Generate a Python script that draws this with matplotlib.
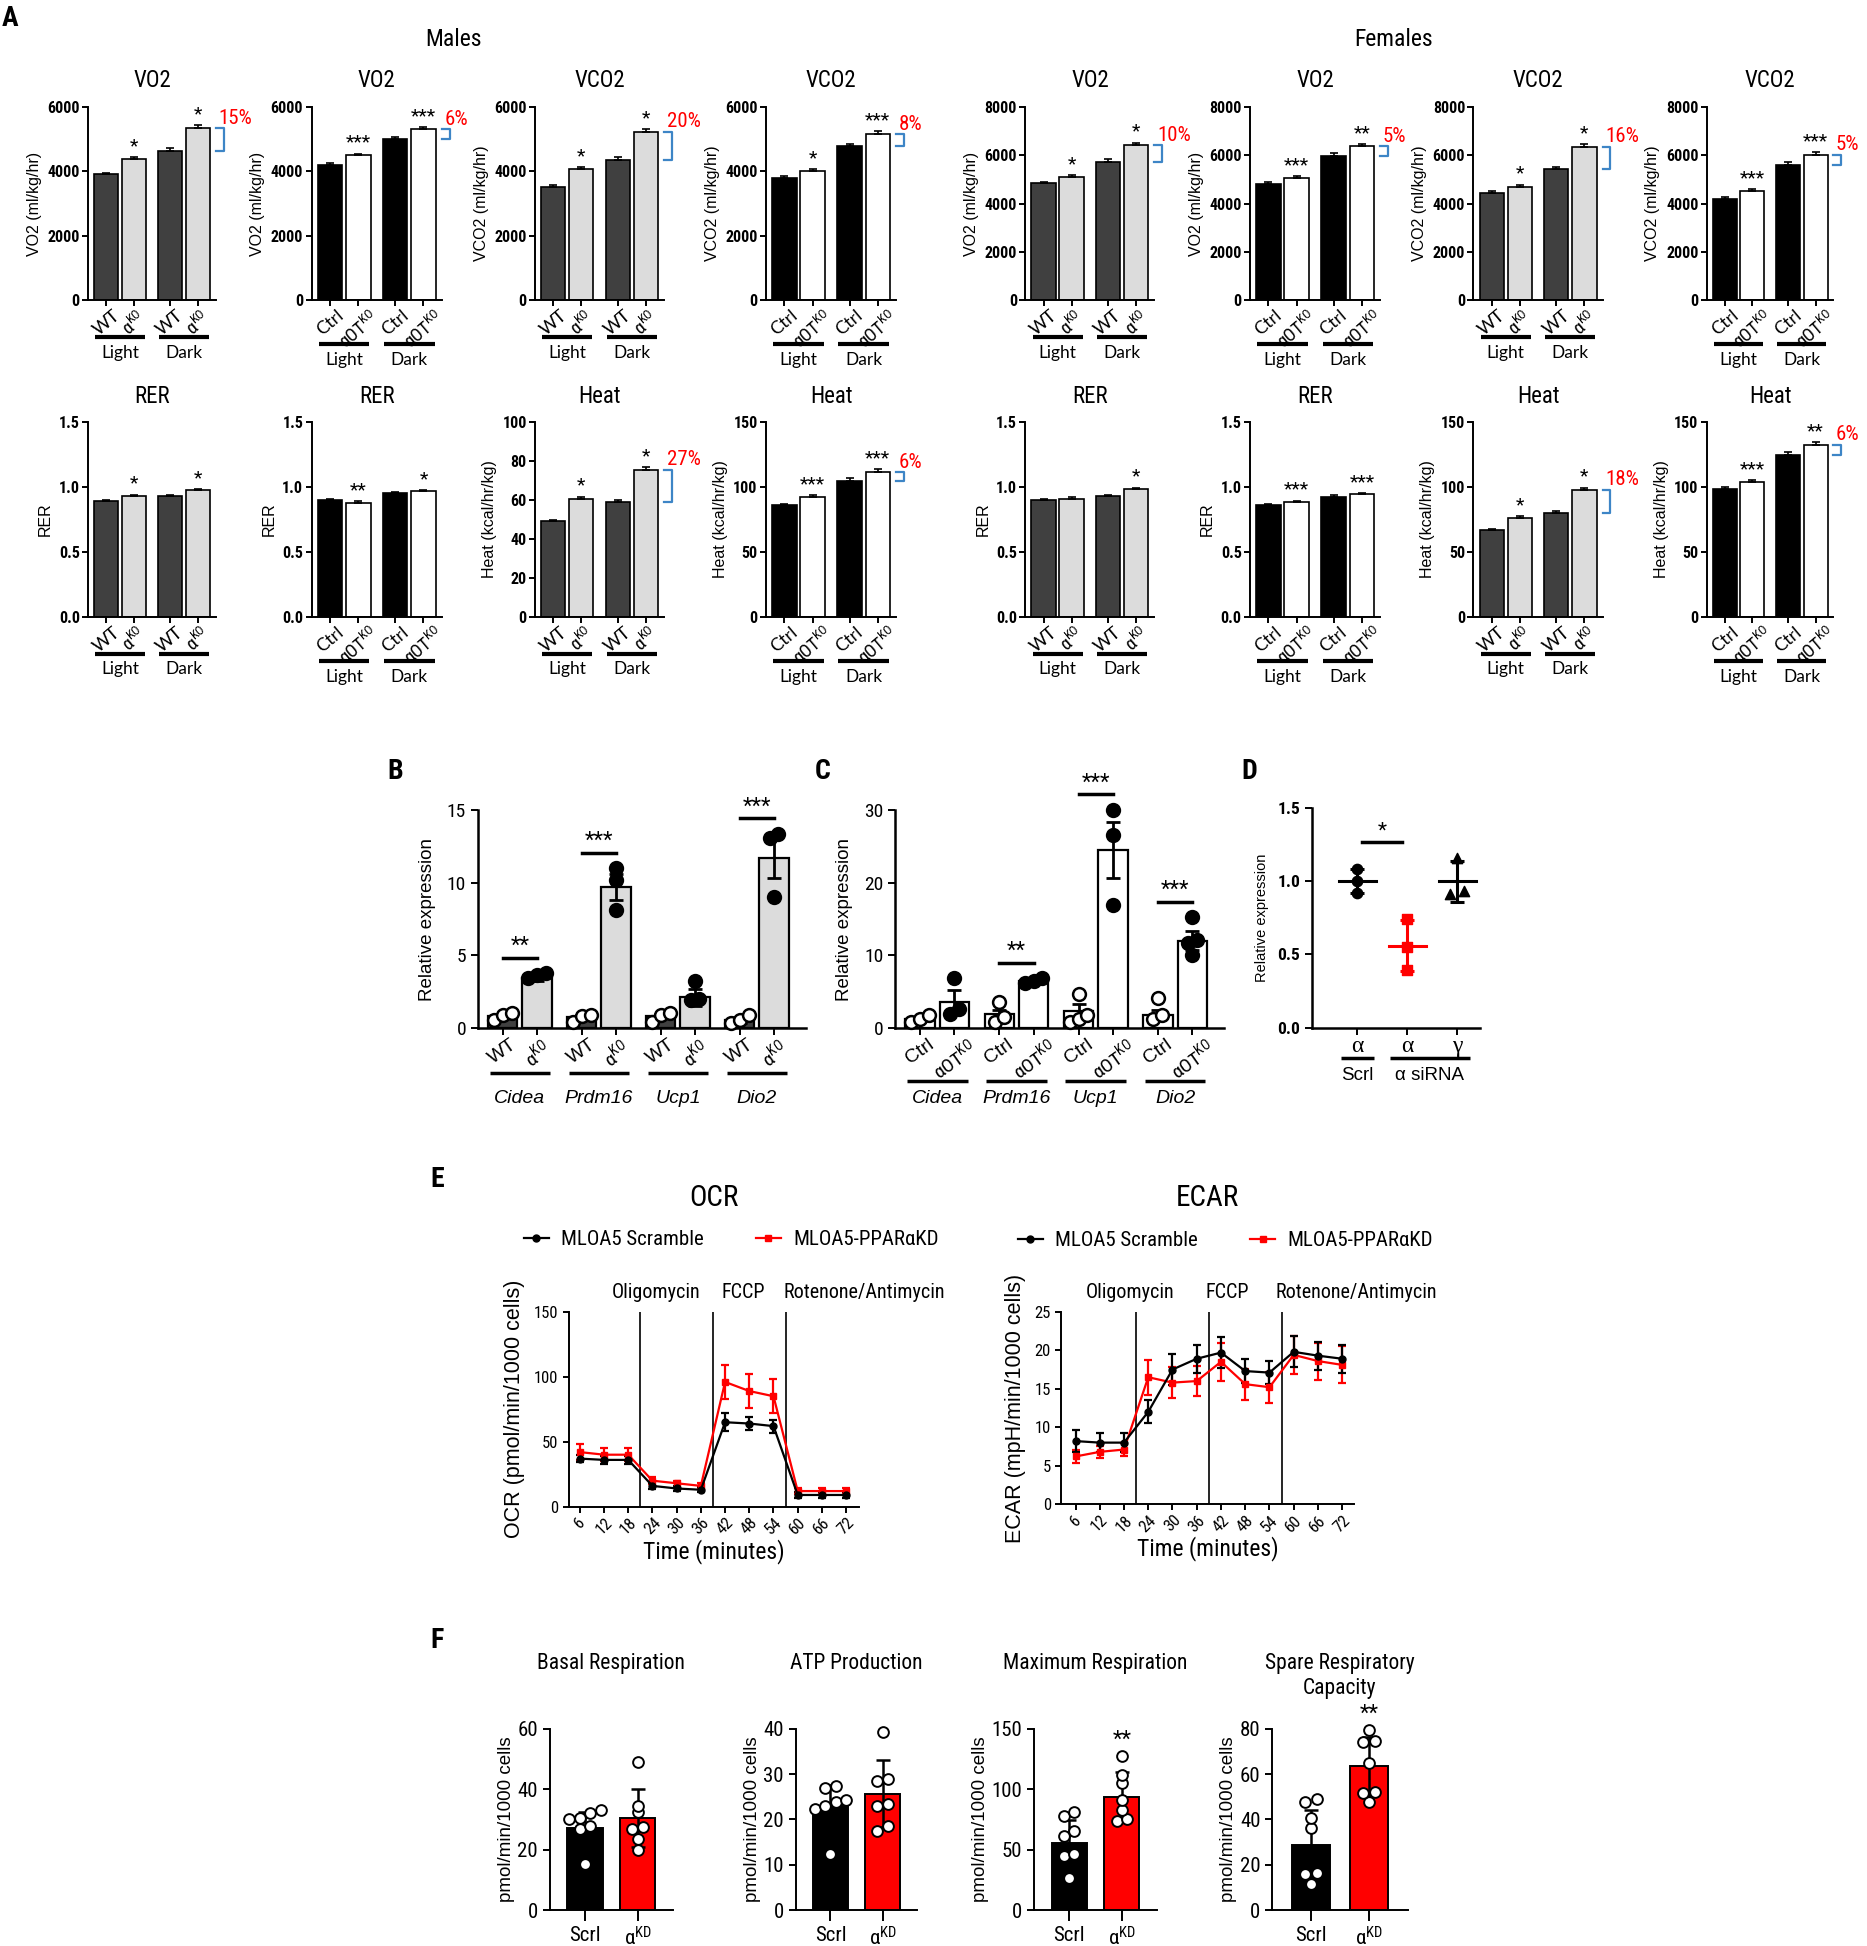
import os
import dataclasses
import numpy as np
import matplotlib
matplotlib.use("Agg")
import matplotlib.pyplot as plt
from matplotlib import font_manager
from matplotlib.lines import Line2D
from matplotlib.transforms import blended_transform_factory

# ---------------- data: panel A (Light ctrl, Light KO, Dark ctrl, Dark KO) ----------------
vo2_m_ko = [3900, 4370, 4640, 5350]
vo2_m_ko_err = [50, 70, 70, 70]
vo2_m_ot = [4200, 4490, 4990, 5310]
vo2_m_ot_err = [50, 60, 70, 70]
vco2_m_ko = [3520, 4060, 4360, 5230]
vco2_m_ko_err = [50, 70, 70, 80]
vco2_m_ot = [3800, 4000, 4770, 5160]
vco2_m_ot_err = [50, 70, 80, 90]
vo2_f_ko = [4830, 5100, 5730, 6420]
vo2_f_ko_err = [70, 90, 100, 100]
vo2_f_ot = [4800, 5050, 5970, 6370]
vo2_f_ot_err = [70, 70, 100, 100]
vco2_f_ko = [4420, 4680, 5420, 6350]
vco2_f_ko_err = [80, 100, 100, 100]
vco2_f_ot = [4200, 4510, 5600, 6020]
vco2_f_ot_err = [70, 70, 100, 100]

rer_m_ko = [0.89, 0.93, 0.93, 0.975]
rer_m_ot = [0.90, 0.88, 0.95, 0.965]
rer_f_ko = [0.90, 0.91, 0.93, 0.985]
rer_f_ot = [0.86, 0.885, 0.925, 0.945]
rer_err = [0.01, 0.01, 0.01, 0.01]
heat_m_ko = [49, 60.5, 59, 75.5]
heat_m_ko_err = [0.8, 1.2, 1.2, 1.2]
heat_m_ot = [86, 92, 104.5, 111.5]
heat_m_ot_err = [1.2, 1.5, 2, 2]
heat_f_ko = [66.5, 76, 80, 98]
heat_f_ko_err = [1, 1.5, 1.5, 1.5]
heat_f_ot = [98.5, 104, 124.5, 132.5]
heat_f_ot_err = [1.5, 1.5, 2, 2]

stars_row1 = [['', '*', '', '*'], ['', '***', '', '***'], ['', '*', '', '*'], ['', '*', '', '***'],
              ['', '*', '', '*'], ['', '***', '', '**'], ['', '*', '', '*'], ['', '***', '', '***']]
stars_row2 = [['', '*', '', '*'], ['', '**', '', '*'], ['', '*', '', '*'], ['', '***', '', '***'],
              ['', '', '', '*'], ['', '***', '', '***'], ['', '*', '', '*'], ['', '***', '', '**']]
pct_row1 = ['15%', '6%', '20%', '8%', '10%', '5%', '16%', '5%']
pct_row2 = [None, None, '27%', '6%', None, None, '18%', '6%']

# ---------------- data: panels B, C ----------------
genes = ['Cidea', 'Prdm16', 'Ucp1', 'Dio2']
b_wt_mean = [0.8, 0.7, 0.8, 0.55]
b_wt_sem = [0.15, 0.15, 0.15, 0.2]
b_ko_mean = [3.4, 9.7, 2.1, 11.7]
b_ko_sem = [0.15, 0.9, 0.6, 1.4]
b_wt_pts = [[0.5, 0.9, 1.0], [0.4, 0.8, 0.9], [0.4, 0.9, 1.0], [0.3, 0.5, 0.9]]
b_ko_pts = [[3.4, 3.6, 3.75], [8.1, 10.2, 11.0], [1.9, 2.0, 3.2], [9.0, 13.1, 13.4]]
b_sig = ['**', '***', '', '***']

c_ctrl_mean = [1.2, 1.9, 2.3, 1.8]
c_ctrl_sem = [0.3, 0.6, 0.9, 0.7]
c_ko_mean = [3.6, 6.4, 24.5, 12.0]
c_ko_sem = [1.6, 0.2, 3.9, 1.3]
c_ctrl_pts = [[0.75, 1.2, 1.7], [0.8, 1.4, 3.5], [0.8, 1.2, 1.7, 4.7], [1.2, 1.7, 4.1]]
c_ko_pts = [[1.9, 2.6, 6.8], [6.2, 6.4, 6.8], [16.9, 26.6, 30.1], [10.0, 11.7, 12.1, 15.3]]
c_sig = ['', '**', '***', '***']

# ---------------- data: panel D ----------------
d_labels = ['\u03b1', '\u03b1', '\u03b3']
d_scrl = [0.92, 1.0, 1.08]
d_sirna_alpha = [0.39, 0.55, 0.74]
d_sirna_gamma = [0.91, 0.93, 1.16]

# ---------------- data: panel E ----------------
time_min = [6, 12, 18, 24, 30, 36, 42, 48, 54, 60, 66, 72]
ocr_scr = [37, 36, 36, 16, 14, 13, 65, 64, 62, 9, 9, 9]
ocr_scr_err = [3, 3, 3, 2.5, 2, 2, 7, 5, 5, 2, 2, 2]
ocr_kd = [42, 40, 40, 20, 18, 16, 96, 89, 85, 12, 12, 12]
ocr_kd_err = [6, 5, 5, 2.5, 2, 2, 13, 13, 13, 2, 2, 2]
ecar_scr = [8.2, 8.0, 8.0, 12.0, 17.5, 18.9, 19.7, 17.3, 17.1, 19.8, 19.3, 18.9]
ecar_scr_err = [1.4, 1.2, 1.2, 1.5, 2.0, 1.8, 2.0, 1.6, 1.5, 2.0, 1.8, 1.8]
ecar_kd = [6.2, 6.8, 7.1, 16.5, 15.8, 16.0, 18.5, 15.6, 15.2, 19.4, 18.6, 18.1]
ecar_kd_err = [0.8, 0.8, 0.8, 2.3, 2.0, 2.0, 2.5, 2.0, 2.0, 2.5, 2.4, 2.4]
injections = ['Oligomycin', 'FCCP', 'Rotenone/Antimycin']
injection_times = [21, 39, 57]

# ---------------- data: panel F ----------------
basal_scrl = [15.4, 26.7, 27.8, 30.0, 30.5, 32.2, 33.0]
basal_kd = [20.0, 23.6, 26.7, 27.5, 32.4, 34.6, 49.0]
basal_mean, basal_sd = [27.0, 30.5], [5.3, 9.6]
atp_scrl = [12.4, 22.4, 22.9, 23.9, 24.3, 27.0, 27.4]
atp_kd = [17.4, 18.5, 23.0, 23.5, 28.5, 29.0, 39.3]
atp_mean, atp_sd = [22.9, 25.7], [4.6, 7.4]
max_scrl = [26.7, 44.6, 46.0, 61.0, 65.6, 78.0, 80.9]
max_kd = [73.5, 75.0, 83.0, 91.4, 105.5, 112.0, 127.7]
max_mean, max_sd = [55.6, 93.6], [18.5, 21.0]
spare_scrl = [11.5, 15.8, 16.2, 36.4, 40.8, 47.6, 48.8]
spare_kd = [47.6, 51.7, 52.0, 65.0, 74.0, 74.4, 79.6]
spare_mean, spare_sd = [28.5, 63.4], [15.8, 13.2]

# ---------------- fonts ----------------
fm = font_manager.fontManager


def wnum(w):
    try:
        return int(w)
    except (TypeError, ValueError):
        return {'normal': 400, 'regular': 400, 'book': 400, 'bold': 700}.get(str(w).lower(), 400)


def register_condensed():
    # look for an installed narrow / condensed sans and register it as "CondSans"
    prefs = ['liberationsansnarrow', 'arialnarrow', 'robotocondensed', 'notosanscondensed',
             'notosans', 'dejavusanscondensed', 'opensanscondensed', 'opensans']
    pool = []
    for f in fm.ttflist:
        fn = os.path.basename(f.fname).lower().replace('-', '').replace('_', '').replace(' ', '')
        if not ('narrow' in fn or 'condensed' in fn):
            continue
        if any(k in fn for k in ('extra', 'semi', 'ultra', 'mono', 'serif', 'light', 'medium', 'black', 'thin')):
            continue
        pool.append((fn, f))
    for p in prefs:
        cands = [f for fn, f in pool if fn.startswith(p)]
        reg = [f for f in cands if f.style == 'normal' and wnum(f.weight) < 550]
        if not reg:
            continue
        for f in cands:
            fm.ttflist.append(dataclasses.replace(f, name='CondSans'))
        return 'CondSans'
    return None


NARROW = register_condensed() or 'Liberation Sans'
WIDE = 'Liberation Sans'
HUMAN = 'Lato'
plt.rcParams['font.family'] = [NARROW, 'DejaVu Sans']
plt.rcParams['mathtext.fontset'] = 'custom'
plt.rcParams['mathtext.rm'] = NARROW
plt.rcParams['mathtext.it'] = NARROW + ':italic'
plt.rcParams['mathtext.bf'] = NARROW + ':bold'
plt.rcParams['axes.linewidth'] = 1.4
plt.rcParams['xtick.major.width'] = 1.4
plt.rcParams['ytick.major.width'] = 1.4
plt.rcParams['xtick.major.size'] = 4
plt.rcParams['ytick.major.size'] = 4

W, H = 1504.0, 1568.0
fig = plt.figure(figsize=(18.67, 19.46), dpi=100)

KO = '$\\mathrm{\u03b1}^{\\mathrm{KO}}$'
OTKO = '$\\mathrm{\u03b1OT}^{\\mathrm{KO}}$'
KD = '$\\mathrm{\u03b1}^{\\mathrm{KD}}$'


def box(x0, y0, x1, y1):
    return fig.add_axes([x0 / W, 1 - y1 / H, (x1 - x0) / W, (y1 - y0) / H])


def label(x, y, s, **kw):
    fig.text(x / W, 1 - y / H, s, **kw)


def clean(ax):
    ax.spines['top'].set_visible(False)
    ax.spines['right'].set_visible(False)


def under(ax, x0, x1, y, text=None, ty=None, lw=3, **kw):
    tr = ax.get_xaxis_transform()
    ax.plot([x0, x1], [y, y], color='black', lw=lw, transform=tr, clip_on=False,
            solid_capstyle='butt')
    if text:
        ax.text((x0 + x1) / 2, ty, text, transform=tr, ha='center', va='center', **kw)


def swarm(vals, thr, step):
    vals = np.asarray(vals, float)
    offs = np.zeros(len(vals))
    order = np.argsort(vals)
    groups, cur = [], [order[0]]
    for i in order[1:]:
        if vals[i] - vals[cur[-1]] < thr:
            cur.append(i)
        else:
            groups.append(cur)
            cur = [i]
    groups.append(cur)
    for g in groups:
        n = len(g)
        for k, idx in enumerate(g):
            offs[idx] = (k - (n - 1) / 2) * step
    return offs


# ---------------- panel A ----------------
def energy_chart(ax, title, ylabel, vals, errs, stars, kind, ymax, ystep, pct):
    pos = np.array([0, 1.15, 2.65, 3.8])
    if kind == 'ko':
        colors = ['#404040', '#dcdcdc', '#404040', '#dcdcdc']
        labs = ['WT', KO, 'WT', KO]
        uy, gy = -0.19, -0.27
    else:
        colors = ['black', 'white', 'black', 'white']
        labs = ['Ctrl', OTKO, 'Ctrl', OTKO]
        uy, gy = -0.225, -0.31
    ax.bar(pos, vals, width=1.0, color=colors, edgecolor='black', linewidth=1.2)
    ax.errorbar(pos, vals, yerr=[np.zeros(4), errs], fmt='none', ecolor='black',
                elinewidth=1.2, capsize=3, capthick=1.2)
    for p, v, e, s in zip(pos, vals, errs, stars):
        if s:
            ax.text(p, v + e + 0.01 * ymax, s, ha='center', va='bottom', fontsize=14)
    ax.set_xlim(-0.75, 4.55)
    ax.set_ylim(0, ymax)
    ticks = np.arange(0, ymax + ystep / 2, ystep)
    ax.set_yticks(ticks)
    if ymax < 2:
        ax.set_yticklabels(['%.1f' % t for t in ticks])
    ax.set_xticks(pos)
    ax.set_xticklabels(labs, rotation=40, ha='center', va='top', family=HUMAN,
                       fontsize=13)
    ax.tick_params(axis='x', pad=1)
    ax.tick_params(axis='y', labelsize=11.5, pad=2)
    for t in ax.get_yticklabels():
        t.set_fontweight('bold')
    ax.set_ylabel(ylabel, family=WIDE, fontsize=11.5, labelpad=4)
    ax.set_title(title, fontsize=16.5, pad=14)
    clean(ax)
    under(ax, pos[0] - 0.45, pos[1] + 0.45, uy, 'Light', gy, family=HUMAN, fontsize=12.5)
    under(ax, pos[2] - 0.45, pos[3] + 0.45, uy, 'Dark', gy, family=HUMAN, fontsize=12.5)
    if pct:
        tr = blended_transform_factory(ax.transAxes, ax.transData)
        top, bot = vals[3], vals[2]
        ax.plot([1.0, 1.06, 1.06, 1.0], [top, top, bot, bot], transform=tr,
                clip_on=False, color='#3d85c6', lw=1.6)
        ax.text(1.02, top + 0.05 * ymax, pct, transform=tr, color='red',
                fontsize=15, ha='left', va='center')


col_left = [71, 251, 431, 617, 826, 1007, 1187, 1375]
col_right = [174, 356, 535, 722, 930, 1112, 1291, 1477]
kinds = ['ko', 'ot'] * 4

row1 = [('VO2', 'VO2 (ml/kg/hr)', vo2_m_ko, vo2_m_ko_err, 6000, 2000),
        ('VO2', 'VO2 (ml/kg/hr)', vo2_m_ot, vo2_m_ot_err, 6000, 2000),
        ('VCO2', 'VCO2 (ml/kg/hr)', vco2_m_ko, vco2_m_ko_err, 6000, 2000),
        ('VCO2', 'VCO2 (ml/kg/hr)', vco2_m_ot, vco2_m_ot_err, 6000, 2000),
        ('VO2', 'VO2 (ml/kg/hr)', vo2_f_ko, vo2_f_ko_err, 8000, 2000),
        ('VO2', 'VO2 (ml/kg/hr)', vo2_f_ot, vo2_f_ot_err, 8000, 2000),
        ('VCO2', 'VCO2 (ml/kg/hr)', vco2_f_ko, vco2_f_ko_err, 8000, 2000),
        ('VCO2', 'VCO2 (ml/kg/hr)', vco2_f_ot, vco2_f_ot_err, 8000, 2000)]
row2 = [('RER', 'RER', rer_m_ko, rer_err, 1.5, 0.5),
        ('RER', 'RER', rer_m_ot, rer_err, 1.5, 0.5),
        ('Heat', 'Heat (kcal/hr/kg)', heat_m_ko, heat_m_ko_err, 100, 20),
        ('Heat', 'Heat (kcal/hr/kg)', heat_m_ot, heat_m_ot_err, 150, 50),
        ('RER', 'RER', rer_f_ko, rer_err, 1.5, 0.5),
        ('RER', 'RER', rer_f_ot, rer_err, 1.5, 0.5),
        ('Heat', 'Heat (kcal/hr/kg)', heat_f_ko, heat_f_ko_err, 150, 50),
        ('Heat', 'Heat (kcal/hr/kg)', heat_f_ot, heat_f_ot_err, 150, 50)]

for i in range(8):
    t, yl, v, e, ym, st = row1[i]
    ax = box(col_left[i], 86, col_right[i], 242)
    energy_chart(ax, t, yl, v, e, stars_row1[i], kinds[i], ym, st, pct_row1[i])
    t, yl, v, e, ym, st = row2[i]
    ax = box(col_left[i], 340, col_right[i], 497)
    energy_chart(ax, t, yl, v, e, stars_row2[i], kinds[i], ym, st, pct_row2[i])

label(8, 15, 'A', fontsize=20, fontweight='bold', ha='center', va='center')
label(365, 32, 'Males', fontsize=17, ha='center', va='center')
label(1123, 32, 'Females', fontsize=17, ha='center', va='center')


# ---------------- panels B, C ----------------
def gene_chart(ax, c_mean, c_sem, k_mean, k_sem, c_pts, k_pts, sig, ymax, kind):
    base = np.arange(4) * 2.7
    pc, pk = base, base + 1.17
    if kind == 'B':
        cc, kc = '#404040', '#dcdcdc'
        labs = ['WT', KO]
        uy = -0.21
    else:
        cc, kc = 'white', 'white'
        labs = ['Ctrl', OTKO]
        uy = -0.245
    ax.bar(pc, c_mean, width=1.0, color=cc, edgecolor='black', lw=1.6)
    ax.bar(pk, k_mean, width=1.0, color=kc, edgecolor='black', lw=1.6)
    ax.errorbar(pc, c_mean, yerr=c_sem, fmt='none', ecolor='black', elinewidth=2,
                capsize=5, capthick=2, zorder=4)
    ax.errorbar(pk, k_mean, yerr=k_sem, fmt='none', ecolor='black', elinewidth=2,
                capsize=5, capthick=2, zorder=4)
    for i in range(4):
        for x0, pts, face in [(pc[i], c_pts[i], 'white'), (pk[i], k_pts[i], 'black')]:
            offs = swarm(pts, 0.045 * ymax, 0.3)
            ax.scatter(x0 + offs, pts, s=85, facecolor=face, edgecolor='black',
                       lw=1.8, zorder=5, clip_on=False)
        if sig[i]:
            y = max(k_pts[i]) + 0.07 * ymax
            ax.plot([pc[i], pk[i]], [y, y], color='black', lw=2.5, clip_on=False)
            ax.text((pc[i] + pk[i]) / 2, y + 0.005 * ymax, sig[i], ha='center',
                    va='bottom', fontsize=16)
        under(ax, pc[i] - 0.45, pk[i] + 0.45, uy, genes[i], -0.325, lw=2.5,
              family=WIDE, fontsize=14, fontstyle='italic')
    ax.set_xticks(np.concatenate([pc, pk]))
    ax.set_xticklabels([labs[0]] * 4 + [labs[1]] * 4, rotation=35, ha='center',
                       va='top', family=WIDE, fontsize=14)
    ax.set_xlim(-0.85, 10.35)
    ax.set_ylim(0, ymax)
    ax.set_yticks(np.linspace(0, ymax, 4))
    ax.tick_params(axis='y', labelsize=14, length=5)
    ax.tick_params(axis='x', length=5, pad=1)
    ax.set_ylabel('Relative expression', family=WIDE, fontsize=13.5, labelpad=8)
    ax.spines['left'].set_linewidth(1.8)
    ax.spines['bottom'].set_linewidth(1.8)
    clean(ax)


axB = box(385, 653, 649, 828)
gene_chart(axB, b_wt_mean, b_wt_sem, b_ko_mean, b_ko_sem, b_wt_pts, b_ko_pts, b_sig, 15, 'B')
axC = box(721, 653, 986, 828)
gene_chart(axC, c_ctrl_mean, c_ctrl_sem, c_ko_mean, c_ko_sem, c_ctrl_pts, c_ko_pts, c_sig, 30, 'C')
label(318, 622, 'B', fontsize=20, fontweight='bold', ha='center', va='center')
label(663, 622, 'C', fontsize=20, fontweight='bold', ha='center', va='center')

# ---------------- panel D ----------------
axD = box(1057, 651, 1192, 828)
d_groups = [(d_scrl, 'black', 'o'), (d_sirna_alpha, 'red', 's'), (d_sirna_gamma, 'black', '^')]
for i, (pts, col, mk) in enumerate(d_groups):
    m, sd = np.mean(pts), np.std(pts, ddof=1)
    offs = swarm(pts, 0.06, 0.28)
    axD.scatter(i + offs, pts, s=55, marker=mk, color=col, zorder=4)
    axD.plot([i - 0.37, i + 0.37], [m, m], color=col, lw=2.2, zorder=3)
    axD.errorbar([i], [m], yerr=[sd], fmt='none', ecolor=col, elinewidth=2.2,
                 capsize=5, capthick=2.2, zorder=3)
axD.plot([0.1, 0.9], [1.27, 1.27], color='black', lw=2.5)
axD.text(0.5, 1.28, '*', ha='center', va='bottom', fontsize=15)
axD.set_xlim(-0.9, 2.45)
axD.set_ylim(0, 1.5)
axD.set_yticks([0, 0.5, 1.0, 1.5])
axD.set_yticklabels(['0.0', '0.5', '1.0', '1.5'])
axD.set_xticks([0, 1, 2])
axD.set_xticklabels(d_labels, family='Liberation Serif', fontsize=17)
axD.tick_params(axis='x', pad=1, length=5)
axD.tick_params(axis='y', labelsize=12.5, length=5)
for t in axD.get_yticklabels():
    t.set_fontweight('bold')
axD.set_ylabel('Relative expression', family=WIDE, fontsize=10.5, labelpad=6)
axD.spines['left'].set_linewidth(1.8)
axD.spines['bottom'].set_linewidth(1.8)
clean(axD)
under(axD, -0.33, 0.33, -0.14, 'Scrl', -0.22, lw=2.5, family=WIDE, fontsize=13.5)
under(axD, 0.65, 2.25, -0.14, '\u03b1 siRNA', -0.22, lw=2.5, family=WIDE, fontsize=13.5)
label(1006, 622, 'D', fontsize=20, fontweight='bold', ha='center', va='center')


# ---------------- panel E ----------------
def seahorse(ax, scr, scr_err, kd, kd_err, ymax, ystep, ylabel, xlim, drug_x, title):
    ax.errorbar(time_min, kd, yerr=kd_err, color='red', marker='s', ms=5, lw=1.6,
                elinewidth=1.6, capsize=3, capthick=1.6)
    ax.errorbar(time_min, scr, yerr=scr_err, color='black', marker='o', ms=5, lw=1.6,
                elinewidth=1.6, capsize=3, capthick=1.6)
    for t in injection_times:
        ax.axvline(t, color='black', lw=1.2)
    for name, x in zip(injections, drug_x):
        ax.text(x, ymax * 1.05, name, ha='center', va='bottom', fontsize=14.5)
    ax.set_xlim(*xlim)
    ax.set_ylim(0, ymax)
    ax.set_yticks(np.arange(0, ymax + 0.1, ystep))
    ax.set_xticks(time_min)
    ax.set_xticklabels([str(t) for t in time_min], rotation=45, ha='center',
                       va='top', fontsize=12)
    ax.tick_params(axis='y', labelsize=12)
    ax.tick_params(axis='x', pad=2)
    ax.set_ylabel(ylabel, family=WIDE, fontsize=15.5, labelpad=6)
    ax.set_xlabel('Time (minutes)', fontsize=17, labelpad=1)
    ax.set_title(title, fontsize=21, pad=76)
    clean(ax)
    hs = [Line2D([0], [0], color='black', marker='o', ms=5, lw=1.6),
          Line2D([0], [0], color='red', marker='s', ms=5, lw=1.6)]
    ax.legend(hs, ['MLOA5 Scramble', 'MLOA5-PPAR\u03b1KD'], loc='center',
              bbox_to_anchor=(0.56, 1.37), ncol=2, frameon=False, fontsize=15,
              handlelength=1.2, columnspacing=2.5, handletextpad=0.6)


axO = box(458, 1057, 692, 1214)
seahorse(axO, ocr_scr, ocr_scr_err, ocr_kd, ocr_kd_err, 150, 50,
         'OCR (pmol/min/1000 cells)', (3.2, 75.2), [25, 46.6, 76.5], 'OCR')
axE = box(855, 1057, 1091, 1212)
seahorse(axE, ecar_scr, ecar_scr_err, ecar_kd, ecar_kd_err, 25, 5,
         'ECAR (mpH/min/1000 cells)', (2.5, 75), [19.5, 43.5, 75.5], 'ECAR')
label(352, 950, 'E', fontsize=20, fontweight='bold', ha='center', va='center')


# ---------------- panel F ----------------
def resp_chart(ax, title, s_pts, k_pts, means, sds, ymax, ystep, sig):
    pos = np.array([0, 1.5])
    ax.bar(pos, means, width=1.0, color=['black', 'red'], edgecolor='black', lw=1.4)
    ax.errorbar(pos, means, yerr=sds, fmt='none', ecolor='black', elinewidth=1.8,
                capsize=5, capthick=1.8, zorder=3)
    for p, pts in zip(pos, [s_pts, k_pts]):
        offs = swarm(pts, 0.035 * ymax, 0.3)
        ax.scatter(p + offs, pts, s=60, facecolor='white', edgecolor='black', lw=1.4,
                   zorder=5, clip_on=False)
    if sig:
        ax.text(pos[1], max(k_pts) + 0.03 * ymax, sig, ha='center', va='bottom', fontsize=16)
    ax.set_xlim(-1.0, 2.5)
    ax.set_ylim(0, ymax)
    ax.set_yticks(np.arange(0, ymax + 0.1, ystep))
    ax.set_xticks(pos)
    ax.set_xticklabels(['Scrl', KD], fontsize=15)
    ax.tick_params(axis='y', labelsize=15, length=5)
    ax.tick_params(axis='x', length=8)
    ax.set_ylabel('pmol/min/1000 cells', family=WIDE, fontsize=13.5, labelpad=2)
    ax.text(0.5, 1 + 61 / 146.0, title, transform=ax.transAxes, ha='center', va='top',
            fontsize=15.5, linespacing=1.25)
    clean(ax)


f_specs = [('Basal Respiration', basal_scrl, basal_kd, basal_mean, basal_sd, 60, 20, ''),
           ('ATP Production', atp_scrl, atp_kd, atp_mean, atp_sd, 40, 10, ''),
           ('Maximum Respiration', max_scrl, max_kd, max_mean, max_sd, 150, 50, '**'),
           ('Spare Respiratory\nCapacity', spare_scrl, spare_kd, spare_mean, spare_sd, 80, 20, '**')]
f_left = [443, 641, 833, 1025]
f_right = [542, 739, 932, 1134]
for i, spec in enumerate(f_specs):
    ax = box(f_left[i], 1393, f_right[i], 1539)
    resp_chart(ax, *spec)
label(352, 1322, 'F', fontsize=20, fontweight='bold', ha='center', va='center')

fig.savefig('out.png', dpi=100)
